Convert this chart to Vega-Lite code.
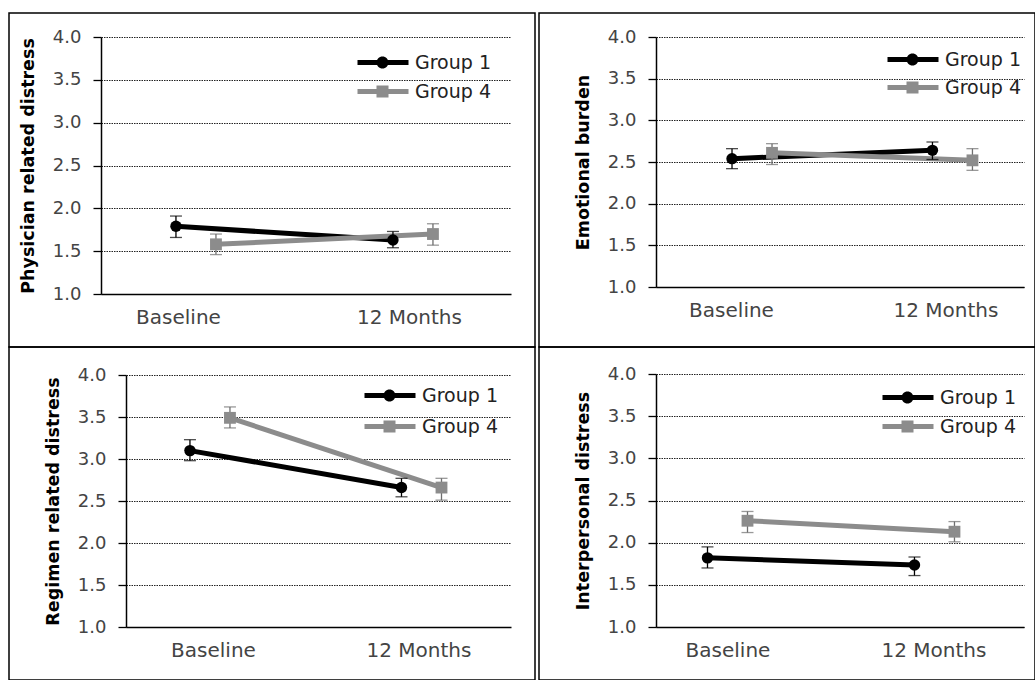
{
  "$schema": "https://vega.github.io/schema/vega-lite/v6.json",
  "background": "white",
  "padding": {"left": 8, "top": 12, "right": 0, "bottom": 0},
  "config": {
    "view": {"stroke": "#000000", "strokeWidth": 1.5},
    "font": "DejaVu Sans"
  },
  "data": {"values": [
    {"panel": "P1", "group": "Group 1", "time": "Baseline", "mean": 1.79, "lo": 1.66, "hi": 1.91},
    {"panel": "P1", "group": "Group 1", "time": "12 Months", "mean": 1.63, "lo": 1.54, "hi": 1.73},
    {"panel": "P1", "group": "Group 4", "time": "Baseline", "mean": 1.58, "lo": 1.46, "hi": 1.70},
    {"panel": "P1", "group": "Group 4", "time": "12 Months", "mean": 1.70, "lo": 1.57, "hi": 1.82},
    {"panel": "P2", "group": "Group 1", "time": "Baseline", "mean": 2.54, "lo": 2.42, "hi": 2.66},
    {"panel": "P2", "group": "Group 1", "time": "12 Months", "mean": 2.64, "lo": 2.53, "hi": 2.74},
    {"panel": "P2", "group": "Group 4", "time": "Baseline", "mean": 2.61, "lo": 2.47, "hi": 2.72},
    {"panel": "P2", "group": "Group 4", "time": "12 Months", "mean": 2.52, "lo": 2.40, "hi": 2.66},
    {"panel": "P3", "group": "Group 1", "time": "Baseline", "mean": 3.10, "lo": 2.98, "hi": 3.23},
    {"panel": "P3", "group": "Group 1", "time": "12 Months", "mean": 2.66, "lo": 2.55, "hi": 2.77},
    {"panel": "P3", "group": "Group 4", "time": "Baseline", "mean": 3.49, "lo": 3.37, "hi": 3.62},
    {"panel": "P3", "group": "Group 4", "time": "12 Months", "mean": 2.66, "lo": 2.51, "hi": 2.77},
    {"panel": "P4", "group": "Group 1", "time": "Baseline", "mean": 1.82, "lo": 1.70, "hi": 1.95},
    {"panel": "P4", "group": "Group 1", "time": "12 Months", "mean": 1.735, "lo": 1.61, "hi": 1.83},
    {"panel": "P4", "group": "Group 4", "time": "Baseline", "mean": 2.26, "lo": 2.12, "hi": 2.37},
    {"panel": "P4", "group": "Group 4", "time": "12 Months", "mean": 2.13, "lo": 2.01, "hi": 2.25}
  ]},
  "columns": 2,
  "spacing": {"row": 0, "column": 4},
  "bounds": "flush",
  "resolve": {"scale": {"color": "independent", "shape": "independent"}, "legend": {"color": "independent", "shape": "independent"}},
  "concat": [
    {
      "width": 526, "height": 334,
      "transform": [{"filter": "datum.panel === 'P1'"}],
      "encoding": {
        "x": {"field": "time", "type": "nominal", "sort": ["Baseline", "12 Months"],
          "scale": {"type": "point", "range": [92, 502], "padding": 0.4447, "align": 0.492},
          "axis": {"title": null, "offset": -53, "labelAngle": 0, "labelFont": "DejaVu Sans", "labelFontSize": 20, "labelColor": "#444444", "labelPadding": 13, "ticks": false, "domainColor": "#000000", "domainWidth": 1.5, "grid": false,
            "labelOffset": {"condition": {"test": "datum.value === 'Baseline'", "value": -18}, "value": -4}}},
        "xOffset": {"field": "group", "type": "nominal", "sort": ["Group 1", "Group 4"], "scale": {"type": "point", "range": [-20, 20], "padding": 0}},
        "y": {"field": "mean", "type": "quantitative",
          "scale": {"domain": [1, 4], "range": [281, 24], "nice": false, "zero": false},
          "axis": {"title": "Physician related distress", "values": [1, 1.5, 2, 2.5, 3, 3.5, 4], "format": ".1f", "offset": -92,
            "titleX": -73, "titleBaseline": "middle", "titleFont": "DejaVu Sans", "titleFontWeight": "bold", "titleFontSize": 17.5, "titleColor": "#000000",
            "labelFont": "DejaVu Sans", "labelFontSize": 18, "labelColor": "#444444", "labelPadding": 12,
            "tickSize": 8, "tickColor": "#000000", "tickWidth": 1.3, "domainColor": "#000000", "domainWidth": 1.5,
            "grid": true, "gridColor": "#222222", "gridDash": [1.5, 1], "gridWidth": 1}}
      },
      "layer": [
        {"mark": {"type": "point", "filled": true, "opacity": 1, "size": 0},
          "encoding": {
            "color": {"field": "group", "type": "nominal", "scale": {"domain": ["Group 1", "Group 4"], "range": ["#000000", "#8c8c8c"]}, "legend": {"orient": "none", "legendX": 385, "legendY": 40, "title": null, "labelFont": "DejaVu Sans", "labelFontSize": 19, "labelColor": "#222222", "symbolSize": 100, "symbolOpacity": 1, "symbolStrokeWidth": 0, "labelOffset": 2, "rowPadding": 9, "padding": 0}},
            "shape": {"field": "group", "type": "nominal", "scale": {"domain": ["Group 1", "Group 4"], "range": ["M-9.2,-0.5H1V0.5H-9.2Z M-3,0A1.2,1.2 0 1,1 -5.4,0A1.2,1.2 0 1,1 -3,0Z", "M-9.2,-0.5H1V0.5H-9.2Z M-5.4,-1.2H-3V1.2H-5.4Z"]},
              "legend": {"orient": "none", "legendX": 385, "legendY": 40, "title": null, "labelFont": "DejaVu Sans", "labelFontSize": 19, "labelColor": "#222222", "symbolSize": 100, "symbolOpacity": 1, "symbolStrokeWidth": 0, "labelOffset": 2, "rowPadding": 9, "padding": 0}}}},
        {"mark": {"type": "line", "strokeWidth": 5},
          "encoding": {"color": {"field": "group", "type": "nominal", "legend": null}}},
        {"mark": {"type": "rule", "strokeWidth": 1.3},
          "encoding": {"y": {"field": "lo", "type": "quantitative"}, "y2": {"field": "hi"}, "color": {"condition": {"test": "datum.group === 'Group 4'", "value": "#6e6e6e"}, "value": "#000000"}}},
        {"mark": {"type": "tick", "size": 12, "thickness": 1.3},
          "encoding": {"y": {"field": "lo", "type": "quantitative"}, "color": {"condition": {"test": "datum.group === 'Group 4'", "value": "#6e6e6e"}, "value": "#000000"}}},
        {"mark": {"type": "tick", "size": 12, "thickness": 1.3},
          "encoding": {"y": {"field": "hi", "type": "quantitative"}, "color": {"condition": {"test": "datum.group === 'Group 4'", "value": "#6e6e6e"}, "value": "#000000"}}},
        {"transform": [{"filter": "datum.group === 'Group 1'"}], "mark": {"type": "point", "filled": true, "opacity": 1, "shape": "circle", "size": 130, "color": "#000000"}},
        {"transform": [{"filter": "datum.group === 'Group 4'"}], "mark": {"type": "point", "filled": true, "opacity": 1, "shape": "square", "size": 140, "color": "#8c8c8c"}}
      ]
    },
    {
      "width": 496, "height": 334,
      "transform": [{"filter": "datum.panel === 'P2'"}],
      "encoding": {
        "x": {"field": "time", "type": "nominal", "sort": ["Baseline", "12 Months"],
          "scale": {"type": "point", "range": [117, 485], "padding": 0.418, "align": 0.573},
          "axis": {"title": null, "offset": -60, "labelAngle": 0, "labelFont": "DejaVu Sans", "labelFontSize": 20, "labelColor": "#444444", "labelPadding": 13, "ticks": false, "domainColor": "#000000", "domainWidth": 1.5, "grid": false,
            "labelOffset": {"condition": {"test": "datum.value === 'Baseline'", "value": -21}, "value": -7}}},
        "xOffset": {"field": "group", "type": "nominal", "sort": ["Group 1", "Group 4"], "scale": {"type": "point", "range": [-19, 19], "padding": 0}},
        "y": {"field": "mean", "type": "quantitative",
          "scale": {"domain": [1, 4], "range": [274, 24], "nice": false, "zero": false},
          "axis": {"title": "Emotional burden", "values": [1, 1.5, 2, 2.5, 3, 3.5, 4], "format": ".1f", "offset": -117,
            "titleX": -73, "titleBaseline": "middle", "titleFont": "DejaVu Sans", "titleFontWeight": "bold", "titleFontSize": 17.5, "titleColor": "#000000",
            "labelFont": "DejaVu Sans", "labelFontSize": 18, "labelColor": "#444444", "labelPadding": 12,
            "tickSize": 8, "tickColor": "#000000", "tickWidth": 1.3, "domainColor": "#000000", "domainWidth": 1.5,
            "grid": true, "gridColor": "#222222", "gridDash": [1.5, 1], "gridWidth": 1}}
      },
      "layer": [
        {"mark": {"type": "point", "filled": true, "opacity": 1, "size": 0},
          "encoding": {
            "color": {"field": "group", "type": "nominal", "scale": {"domain": ["Group 1", "Group 4"], "range": ["#000000", "#8c8c8c"]}, "legend": {"orient": "none", "legendX": 385, "legendY": 37, "title": null, "labelFont": "DejaVu Sans", "labelFontSize": 19, "labelColor": "#222222", "symbolSize": 100, "symbolOpacity": 1, "symbolStrokeWidth": 0, "labelOffset": 2, "rowPadding": 8, "padding": 0}},
            "shape": {"field": "group", "type": "nominal", "scale": {"domain": ["Group 1", "Group 4"], "range": ["M-9.2,-0.5H1V0.5H-9.2Z M-3,0A1.2,1.2 0 1,1 -5.4,0A1.2,1.2 0 1,1 -3,0Z", "M-9.2,-0.5H1V0.5H-9.2Z M-5.4,-1.2H-3V1.2H-5.4Z"]},
              "legend": {"orient": "none", "legendX": 385, "legendY": 37, "title": null, "labelFont": "DejaVu Sans", "labelFontSize": 19, "labelColor": "#222222", "symbolSize": 100, "symbolOpacity": 1, "symbolStrokeWidth": 0, "labelOffset": 2, "rowPadding": 8, "padding": 0}}}},
        {"mark": {"type": "line", "strokeWidth": 5},
          "encoding": {"color": {"field": "group", "type": "nominal", "legend": null}}},
        {"mark": {"type": "rule", "strokeWidth": 1.3},
          "encoding": {"y": {"field": "lo", "type": "quantitative"}, "y2": {"field": "hi"}, "color": {"condition": {"test": "datum.group === 'Group 4'", "value": "#6e6e6e"}, "value": "#000000"}}},
        {"mark": {"type": "tick", "size": 12, "thickness": 1.3},
          "encoding": {"y": {"field": "lo", "type": "quantitative"}, "color": {"condition": {"test": "datum.group === 'Group 4'", "value": "#6e6e6e"}, "value": "#000000"}}},
        {"mark": {"type": "tick", "size": 12, "thickness": 1.3},
          "encoding": {"y": {"field": "hi", "type": "quantitative"}, "color": {"condition": {"test": "datum.group === 'Group 4'", "value": "#6e6e6e"}, "value": "#000000"}}},
        {"transform": [{"filter": "datum.group === 'Group 1'"}], "mark": {"type": "point", "filled": true, "opacity": 1, "shape": "circle", "size": 130, "color": "#000000"}},
        {"transform": [{"filter": "datum.group === 'Group 4'"}], "mark": {"type": "point", "filled": true, "opacity": 1, "shape": "square", "size": 140, "color": "#8c8c8c"}}
      ]
    },
    {
      "width": 526, "height": 333,
      "transform": [{"filter": "datum.panel === 'P3'"}],
      "encoding": {
        "x": {"field": "time", "type": "nominal", "sort": ["Baseline", "12 Months"],
          "scale": {"type": "point", "range": [117, 502], "padding": 0.41, "align": 0.484},
          "axis": {"title": null, "offset": -53, "labelAngle": 0, "labelFont": "DejaVu Sans", "labelFontSize": 20, "labelColor": "#444444", "labelPadding": 13, "ticks": false, "domainColor": "#000000", "domainWidth": 1.5, "grid": false,
            "labelOffset": {"condition": {"test": "datum.value === 'Baseline'", "value": 3}, "value": -3}}},
        "xOffset": {"field": "group", "type": "nominal", "sort": ["Group 1", "Group 4"], "scale": {"type": "point", "range": [-23, 23], "padding": 0}},
        "y": {"field": "mean", "type": "quantitative",
          "scale": {"domain": [1, 4], "range": [280, 28], "nice": false, "zero": false},
          "axis": {"title": "Regimen related distress", "values": [1, 1.5, 2, 2.5, 3, 3.5, 4], "format": ".1f", "offset": -117,
            "titleX": -73, "titleBaseline": "middle", "titleFont": "DejaVu Sans", "titleFontWeight": "bold", "titleFontSize": 17.5, "titleColor": "#000000",
            "labelFont": "DejaVu Sans", "labelFontSize": 18, "labelColor": "#444444", "labelPadding": 12,
            "tickSize": 8, "tickColor": "#000000", "tickWidth": 1.3, "domainColor": "#000000", "domainWidth": 1.5,
            "grid": true, "gridColor": "#222222", "gridDash": [1.5, 1], "gridWidth": 1}}
      },
      "layer": [
        {"mark": {"type": "point", "filled": true, "opacity": 1, "size": 0},
          "encoding": {
            "color": {"field": "group", "type": "nominal", "scale": {"domain": ["Group 1", "Group 4"], "range": ["#000000", "#8c8c8c"]}, "legend": {"orient": "none", "legendX": 392, "legendY": 39, "title": null, "labelFont": "DejaVu Sans", "labelFontSize": 19, "labelColor": "#222222", "symbolSize": 100, "symbolOpacity": 1, "symbolStrokeWidth": 0, "labelOffset": 2, "rowPadding": 11, "padding": 0}},
            "shape": {"field": "group", "type": "nominal", "scale": {"domain": ["Group 1", "Group 4"], "range": ["M-9.2,-0.5H1V0.5H-9.2Z M-3,0A1.2,1.2 0 1,1 -5.4,0A1.2,1.2 0 1,1 -3,0Z", "M-9.2,-0.5H1V0.5H-9.2Z M-5.4,-1.2H-3V1.2H-5.4Z"]},
              "legend": {"orient": "none", "legendX": 392, "legendY": 39, "title": null, "labelFont": "DejaVu Sans", "labelFontSize": 19, "labelColor": "#222222", "symbolSize": 100, "symbolOpacity": 1, "symbolStrokeWidth": 0, "labelOffset": 2, "rowPadding": 11, "padding": 0}}}},
        {"mark": {"type": "line", "strokeWidth": 5},
          "encoding": {"color": {"field": "group", "type": "nominal", "legend": null}}},
        {"mark": {"type": "rule", "strokeWidth": 1.3},
          "encoding": {"y": {"field": "lo", "type": "quantitative"}, "y2": {"field": "hi"}, "color": {"condition": {"test": "datum.group === 'Group 4'", "value": "#6e6e6e"}, "value": "#000000"}}},
        {"mark": {"type": "tick", "size": 12, "thickness": 1.3},
          "encoding": {"y": {"field": "lo", "type": "quantitative"}, "color": {"condition": {"test": "datum.group === 'Group 4'", "value": "#6e6e6e"}, "value": "#000000"}}},
        {"mark": {"type": "tick", "size": 12, "thickness": 1.3},
          "encoding": {"y": {"field": "hi", "type": "quantitative"}, "color": {"condition": {"test": "datum.group === 'Group 4'", "value": "#6e6e6e"}, "value": "#000000"}}},
        {"transform": [{"filter": "datum.group === 'Group 1'"}], "mark": {"type": "point", "filled": true, "opacity": 1, "shape": "circle", "size": 130, "color": "#000000"}},
        {"transform": [{"filter": "datum.group === 'Group 4'"}], "mark": {"type": "point", "filled": true, "opacity": 1, "shape": "square", "size": 140, "color": "#8c8c8c"}}
      ]
    },
    {
      "width": 496, "height": 333,
      "transform": [{"filter": "datum.panel === 'P4'"}],
      "encoding": {
        "x": {"field": "time", "type": "nominal", "sort": ["Baseline", "12 Months"],
          "scale": {"type": "point", "range": [117, 485], "padding": 0.389, "align": 0.444},
          "axis": {"title": null, "offset": -53, "labelAngle": 0, "labelFont": "DejaVu Sans", "labelFontSize": 20, "labelColor": "#444444", "labelPadding": 13, "ticks": false, "domainColor": "#000000", "domainWidth": 1.5, "grid": false,
            "labelOffset": {"condition": {"test": "datum.value === 'Baseline'", "value": 0}, "value": -1}}},
        "xOffset": {"field": "group", "type": "nominal", "sort": ["Group 1", "Group 4"], "scale": {"type": "point", "range": [-20, 20], "padding": 0}},
        "y": {"field": "mean", "type": "quantitative",
          "scale": {"domain": [1, 4], "range": [280, 27], "nice": false, "zero": false},
          "axis": {"title": "Interpersonal distress", "values": [1, 1.5, 2, 2.5, 3, 3.5, 4], "format": ".1f", "offset": -117,
            "titleX": -73, "titleBaseline": "middle", "titleFont": "DejaVu Sans", "titleFontWeight": "bold", "titleFontSize": 17.5, "titleColor": "#000000",
            "labelFont": "DejaVu Sans", "labelFontSize": 18, "labelColor": "#444444", "labelPadding": 12,
            "tickSize": 8, "tickColor": "#000000", "tickWidth": 1.3, "domainColor": "#000000", "domainWidth": 1.5,
            "grid": true, "gridColor": "#222222", "gridDash": [1.5, 1], "gridWidth": 1}}
      },
      "layer": [
        {"mark": {"type": "point", "filled": true, "opacity": 1, "size": 0},
          "encoding": {
            "color": {"field": "group", "type": "nominal", "scale": {"domain": ["Group 1", "Group 4"], "range": ["#000000", "#8c8c8c"]}, "legend": {"orient": "none", "legendX": 380, "legendY": 41, "title": null, "labelFont": "DejaVu Sans", "labelFontSize": 19, "labelColor": "#222222", "symbolSize": 100, "symbolOpacity": 1, "symbolStrokeWidth": 0, "labelOffset": 2, "rowPadding": 9, "padding": 0}},
            "shape": {"field": "group", "type": "nominal", "scale": {"domain": ["Group 1", "Group 4"], "range": ["M-9.2,-0.5H1V0.5H-9.2Z M-3,0A1.2,1.2 0 1,1 -5.4,0A1.2,1.2 0 1,1 -3,0Z", "M-9.2,-0.5H1V0.5H-9.2Z M-5.4,-1.2H-3V1.2H-5.4Z"]},
              "legend": {"orient": "none", "legendX": 380, "legendY": 41, "title": null, "labelFont": "DejaVu Sans", "labelFontSize": 19, "labelColor": "#222222", "symbolSize": 100, "symbolOpacity": 1, "symbolStrokeWidth": 0, "labelOffset": 2, "rowPadding": 9, "padding": 0}}}},
        {"mark": {"type": "line", "strokeWidth": 5},
          "encoding": {"color": {"field": "group", "type": "nominal", "legend": null}}},
        {"mark": {"type": "rule", "strokeWidth": 1.3},
          "encoding": {"y": {"field": "lo", "type": "quantitative"}, "y2": {"field": "hi"}, "color": {"condition": {"test": "datum.group === 'Group 4'", "value": "#6e6e6e"}, "value": "#000000"}}},
        {"mark": {"type": "tick", "size": 12, "thickness": 1.3},
          "encoding": {"y": {"field": "lo", "type": "quantitative"}, "color": {"condition": {"test": "datum.group === 'Group 4'", "value": "#6e6e6e"}, "value": "#000000"}}},
        {"mark": {"type": "tick", "size": 12, "thickness": 1.3},
          "encoding": {"y": {"field": "hi", "type": "quantitative"}, "color": {"condition": {"test": "datum.group === 'Group 4'", "value": "#6e6e6e"}, "value": "#000000"}}},
        {"transform": [{"filter": "datum.group === 'Group 1'"}], "mark": {"type": "point", "filled": true, "opacity": 1, "shape": "circle", "size": 130, "color": "#000000"}},
        {"transform": [{"filter": "datum.group === 'Group 4'"}], "mark": {"type": "point", "filled": true, "opacity": 1, "shape": "square", "size": 140, "color": "#8c8c8c"}}
      ]
    }
  ]
}
